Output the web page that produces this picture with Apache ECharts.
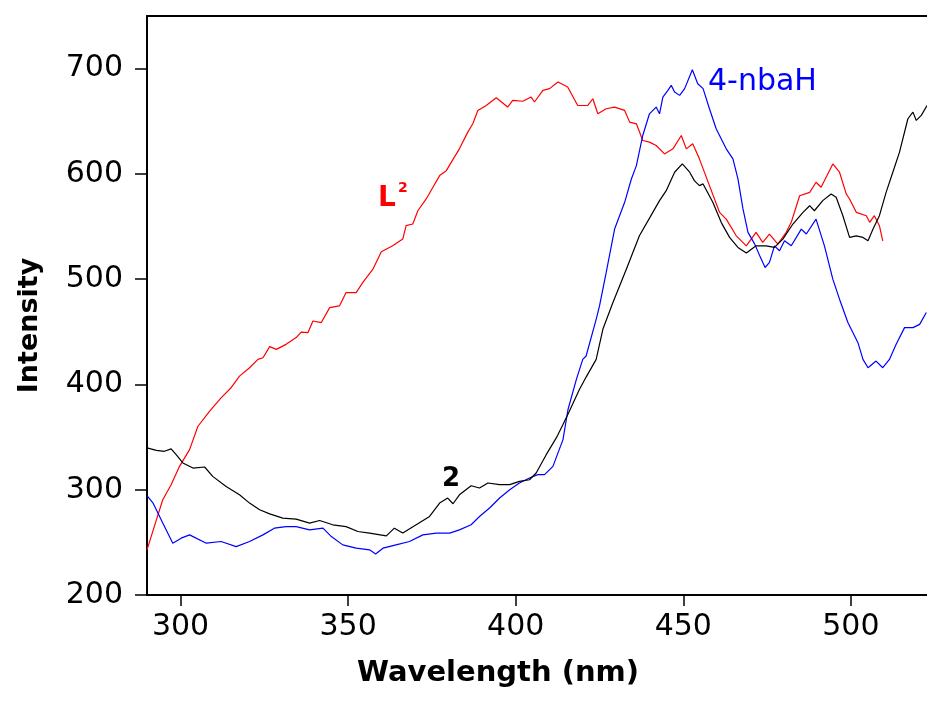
<!DOCTYPE html>
<html><head><meta charset="utf-8">
<script src="https://cdn.jsdelivr.net/npm/echarts@6/dist/echarts.min.js"></script>
<style>html,body{margin:0;padding:0;background:#fff}#c{width:927px;height:702px}</style>
</head><body><div id="c"></div>
<script>
const xTicks = [300, 350, 400, 450, 500];
const yTicks = [200, 300, 400, 500, 600, 700];
const seriesNames = ['L2', '4-nbaH', '2'];

const redL2 = [[290.0,242.9],[292.8,271.4],[294.7,290.5],[297.2,304.8],[299.7,322.2],[302.7,338.1],[305.2,360.3],[308.7,374.6],[312.1,387.3],[315.1,396.9],[317.6,407.9],[320.6,415.9],[323.1,423.8],[324.6,425.4],[326.6,435.9],[328.6,433.3],[331.5,438.1],[334.5,444.5],[336.0,449.8],[338.0,449.2],[339.5,460.3],[342.0,458.8],[344.5,473.0],[347.4,474.6],[349.4,487.3],[352.4,487.3],[354.4,496.9],[357.4,509.5],[359.9,526.0],[363.3,531.7],[366.3,538.1],[367.3,550.8],[369.3,552.4],[370.8,565.0],[373.3,576.2],[375.3,587.3],[377.3,598.4],[379.3,603.1],[381.7,615.9],[383.2,623.8],[385.7,639.7],[387.2,647.6],[388.7,660.3],[391.2,665.0],[394.2,672.4],[395.2,669.8],[397.6,663.5],[399.1,669.8],[402.1,669.0],[404.6,673.0],[405.6,668.3],[408.1,679.3],[410.1,681.0],[412.6,687.3],[415.5,682.6],[418.5,665.0],[421.5,665.0],[423.0,671.4],[424.5,657.1],[427.0,661.9],[429.5,663.5],[432.5,660.3],[434.0,649.2],[436.0,647.6],[437.9,631.7],[439.9,630.2],[441.9,627.0],[444.4,619.0],[446.9,623.8],[449.4,636.5],[450.9,623.8],[452.8,628.6],[454.8,614.3],[457.8,588.9],[460.8,563.5],[462.8,557.1],[465.8,541.2],[468.8,531.7],[471.7,544.5],[473.7,535.0],[475.7,542.9],[478.2,533.3],[480.7,544.5],[482.2,554.0],[484.7,579.3],[487.7,582.5],[489.6,592.1],[491.1,587.3],[494.6,609.5],[496.6,601.6],[498.6,581.0],[499.6,576.2],[501.6,563.5],[504.6,560.3],[505.6,554.0],[507.0,560.3],[508.5,550.8],[509.5,536.5]];

const blueNbaH = [[290.0,294.3],[291.8,287.3],[294.7,268.3],[297.7,249.2],[300.2,254.0],[302.7,257.1],[307.7,249.2],[312.1,250.8],[316.6,246.0],[320.6,250.8],[324.6,257.1],[328.0,263.5],[331.5,265.0],[334.5,265.0],[338.5,261.9],[342.5,263.5],[345.0,255.5],[348.4,247.6],[352.4,244.5],[356.4,242.9],[358.2,239.0],[360.4,244.5],[364.3,247.6],[368.3,250.8],[372.3,257.1],[376.3,258.8],[380.3,258.8],[383.2,261.9],[386.7,266.7],[389.2,274.6],[392.2,282.6],[395.2,292.1],[398.2,300.0],[401.1,306.4],[404.1,311.1],[406.6,314.3],[408.6,314.3],[411.1,322.2],[414.1,347.6],[415.6,376.2],[418.1,404.8],[420.0,423.8],[421.0,427.0],[424.0,461.9],[425.0,474.6],[427.0,506.4],[429.5,547.6],[432.5,573.0],[434.5,595.2],[436.0,607.9],[437.9,636.5],[439.9,657.1],[441.9,663.5],[442.9,657.1],[443.9,673.0],[445.4,679.3],[446.4,684.1],[447.4,677.8],[448.9,674.6],[450.4,681.0],[452.7,699.0],[454.3,685.7],[455.9,681.0],[457.8,661.9],[459.8,642.9],[462.8,623.8],[464.8,614.3],[466.3,595.2],[467.8,566.7],[469.3,544.5],[471.3,533.3],[472.8,522.2],[474.4,511.1],[475.7,515.9],[477.2,531.7],[478.7,527.0],[480.2,536.5],[482.2,531.7],[485.2,547.6],[486.7,542.9],[489.6,557.1],[492.1,531.7],[494.6,500.0],[496.6,481.0],[499.1,458.8],[502.1,439.7],[503.6,423.8],[505.1,415.9],[507.5,422.2],[509.5,415.9],[511.5,423.8],[513.5,438.1],[516.0,454.0],[518.5,454.0],[520.5,457.1],[522.5,468.3]];

const black2 = [[290.0,339.7],[292.8,337.4],[295.2,336.5],[297.2,338.8],[298.7,333.3],[300.7,325.4],[303.7,320.6],[307.2,321.6],[309.6,312.7],[313.6,303.1],[317.6,295.2],[320.6,287.3],[323.6,281.0],[326.6,277.1],[330.5,273.0],[334.5,272.1],[338.5,268.3],[341.5,270.8],[345.4,266.7],[349.4,265.0],[352.9,260.3],[356.4,258.8],[361.4,256.2],[363.8,263.5],[366.3,258.8],[370.3,266.7],[374.3,274.6],[377.3,287.3],[379.7,292.1],[381.3,286.7],[383.2,295.2],[386.7,303.8],[389.2,301.6],[391.7,306.4],[395.2,304.8],[398.2,304.8],[401.1,307.9],[404.1,309.5],[406.1,315.9],[409.1,333.3],[412.1,349.2],[414.1,361.9],[416.0,374.6],[419.0,395.2],[421.0,407.0],[424.0,423.8],[426.0,452.4],[429.0,477.8],[433.0,509.5],[436.9,541.2],[440.9,563.5],[442.9,574.6],[444.9,584.1],[447.4,601.6],[449.7,609.5],[451.9,601.6],[453.3,593.6],[454.8,588.9],[455.9,590.5],[458.8,573.0],[461.3,554.0],[463.8,539.7],[466.3,530.2],[468.8,524.8],[471.7,531.7],[474.7,531.7],[477.2,530.2],[479.7,538.1],[482.7,552.4],[485.7,563.5],[487.7,569.8],[489.1,565.0],[491.6,574.6],[494.1,581.0],[495.6,577.8],[497.6,560.3],[499.6,539.7],[501.6,541.2],[503.6,539.7],[505.1,536.5],[506.6,547.6],[508.5,560.3],[510.5,582.5],[512.5,601.6],[514.5,620.7],[517.0,652.4],[518.5,658.7],[519.5,650.8],[521.0,655.6],[522.7,665.0]];

const F = 'DejaVu Sans';
const chart = echarts.init(document.getElementById('c'), null, {renderer: 'canvas'});
const lineSeries = (name, data, color) => ({
  name, type: 'line', data, showSymbol: false, symbol: 'none', smooth: false,
  lineStyle: {color, width: 1.2}, itemStyle: {color}, clip: true, z: 3
});
chart.setOption({
  animation: false,
  backgroundColor: '#fff',
  grid: {left: 147, right: 0, top: 16, bottom: 107, containLabel: false, outerBoundsMode: 'none'},
  xAxis: [{
    type: 'value', min: 290, max: 522.7, position: 'bottom',
    axisLine: {show: true, onZero: false, lineStyle: {color: '#000', width: 2}},
    axisTick: {show: true, customValues: xTicks, length: 11, inside: false, lineStyle: {color: '#000', width: 1.5}},
    axisLabel: {show: true, customValues: xTicks, margin: 17, color: '#000', fontFamily: F, fontSize: 30},
    splitLine: {show: false},
    name: 'Wavelength (nm)', nameLocation: 'middle', nameGap: 64,
    nameTextStyle: {fontFamily: F, fontWeight: 'bold', fontSize: 29, color: '#000', padding: [0, 78, 0, 0]}
  }, {
    type: 'value', min: 290, max: 522.7, position: 'top',
    axisLine: {show: true, onZero: false, lineStyle: {color: '#000', width: 2}},
    axisTick: {show: false}, axisLabel: {show: false}, splitLine: {show: false}
  }],
  yAxis: {
    type: 'value', min: 200, max: 750, position: 'left',
    axisLine: {show: true, onZero: false, lineStyle: {color: '#000', width: 2}},
    axisTick: {show: true, customValues: yTicks, length: 12, inside: false, lineStyle: {color: '#000', width: 1.5}},
    axisLabel: {show: true, customValues: yTicks, margin: 24, color: '#000', fontFamily: F, fontSize: 30},
    splitLine: {show: false},
    name: 'Intensity', nameLocation: 'middle', nameGap: 104, nameRotate: 90,
    nameTextStyle: {fontFamily: F, fontWeight: 'bold', fontSize: 27, color: '#000', padding: [0, 40, 0, 0]}
  },
  series: [
    lineSeries(seriesNames[0], redL2, '#ff0000'),
    lineSeries(seriesNames[1], blueNbaH, '#0000ff'),
    lineSeries(seriesNames[2], black2, '#000000')
  ],
  graphic: [
    {type: 'text', left: 378, top: 185, z: 10, style: {text: 'L', font: 'bold 28px "DejaVu Sans"', fill: '#ff0000'}},
    {type: 'text', left: 398, top: 181, z: 10, style: {text: '2', font: 'bold 14px "DejaVu Sans"', fill: '#ff0000'}},
    {type: 'text', left: 708, top: 67, z: 10, style: {text: '4-nbaH', font: '30px "DejaVu Sans"', fill: '#0000ff'}},
    {type: 'text', left: 442, top: 466, z: 10, style: {text: '2', font: 'bold 26px "DejaVu Sans"', fill: '#000000'}}
  ]
});
</script>
</body></html>
